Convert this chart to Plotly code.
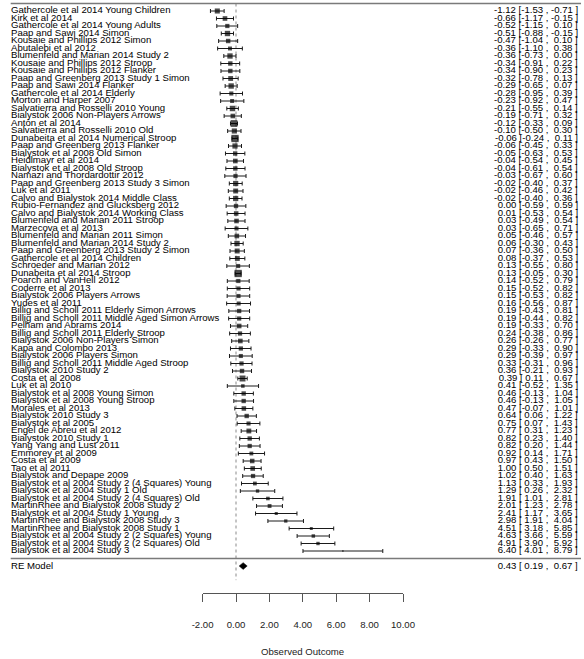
import numpy as np
import plotly.graph_objects as go

# ---------------- data ----------------
studies = [
    "Gathercole et al 2014 Young Children", "Kirk et al 2014", "Gathercole et al 2014 Young Adults",
    "Paap and Sawi 2014 Simon", "Kousaie and Phillips 2012 Simon", "Abutalebi et al 2012",
    "Blumenfeld and Marian 2014 Study 2", "Kousaie and Phillips 2012 Stroop", "Kousaie and Phillips 2012 Flanker",
    "Paap and Greenberg 2013 Study 1 Simon", "Paap and Sawi 2014 Flanker", "Gathercole et al 2014 Elderly",
    "Morton and Harper 2007", "Salvatierra and Rosselli 2010 Young", "Bialystok 2006 Non-Players Arrows",
    "Antón et al 2014", "Salvatierra and Rosselli 2010 Old", "Dunabeita et al 2014 Numerical Stroop",
    "Paap and Greenberg 2013 Flanker", "Bialystok et al 2008 Old Simon", "Heidlmayr et al 2014",
    "Bialystok et al 2008 Old Stroop", "Namazi and Thordardottir 2012", "Paap and Greenberg 2013 Study 3 Simon",
    "Luk et al 2011", "Calvo and Bialystok 2014 Middle Class", "Rubio-Fernandez and Glucksberg 2012",
    "Calvo and Bialystok 2014 Working Class", "Blumenfeld and Marian 2011 Stroop", "Marzecova et al 2013",
    "Blumenfeld and Marian 2011 Simon", "Blumenfeld and Marian 2014 Study 2", "Paap and Greenberg 2013 Study 2 Simon",
    "Gathercole et al 2014 Children", "Schroeder and Marian 2012", "Dunabeita et al 2014 Stroop",
    "Poarch and VanHell 2012", "Coderre et al 2013", "Bialystok 2006 Players Arrows",
    "Yudes et al 2011", "Billig and Scholl 2011 Elderly Simon Arrows", "Billig and Scholl 2011 Middle Aged Simon Arrows",
    "Pelham and Abrams 2014", "Billig and Scholl 2011 Elderly Stroop", "Bialystok 2006 Non-Players Simon",
    "Kapa and Colombo 2013", "Bialystok 2006 Players Simon", "Billig and Scholl 2011 Middle Aged Stroop",
    "Bialystok 2010 Study 2", "Costa et al 2008", "Luk et al 2010",
    "Bialystok et al 2008 Young Simon", "Bialystok et al 2008 Young Stroop", "Morales et al 2013",
    "Bialystok 2010 Study 3", "Bialystok et al 2005", "Engel de Abreu et al 2012",
    "Bialystok 2010 Study 1", "Yang Yang and Lust 2011", "Emmorey et al 2009",
    "Costa et al 2009", "Tao et al 2011", "Bialystok and Depape 2009",
    "Bialystok et al 2004 Study 2 (4 Squares) Young", "Bialystok et al 2004 Study 1 Old",
    "Bialystok et al 2004 Study 2 (4 Squares) Old", "MartinRhee and Bialystok 2008 Study 2",
    "Bialystok et al 2004 Study 1 Young", "MartinRhee and Bialystok 2008 Study 3",
    "MartinRhee and Bialystok 2008 Study 1", "Bialystok et al 2004 Study 2 (2 Squares) Young",
    "Bialystok et al 2004 Study 2 (2 Squares) Old", "Bialystok et al 2004 Study 3",
]
estimates = [
    -1.12, -0.66, -0.52, -0.51, -0.47, -0.36, -0.36, -0.34, -0.34, -0.32, -0.29, -0.28,
    -0.23, -0.21, -0.19, -0.12, -0.10, -0.06, -0.06, -0.05, -0.04, -0.04, -0.03, -0.02,
    -0.02, -0.02, 0.00, 0.01, 0.03, 0.03, 0.05, 0.06, 0.07, 0.08, 0.13, 0.13,
    0.14, 0.15, 0.15, 0.16, 0.19, 0.19, 0.19, 0.24, 0.26, 0.29, 0.29, 0.33,
    0.36, 0.39, 0.41, 0.46, 0.46, 0.47, 0.64, 0.75, 0.77, 0.82, 0.82, 0.92,
    0.97, 1.00, 1.02, 1.13, 1.29, 1.91, 2.01, 2.41, 2.98, 4.51, 4.63, 4.91, 6.40,
]
ci_lower = [
    -1.53, -1.17, -1.15, -0.88, -1.04, -1.10, -0.73, -0.91, -0.90, -0.78, -0.65, -0.95,
    -0.92, -0.55, -0.71, -0.33, -0.50, -0.24, -0.45, -0.63, -0.54, -0.61, -0.67, -0.40,
    -0.46, -0.40, -0.59, -0.53, -0.49, -0.65, -0.46, -0.30, -0.36, -0.37, -0.55, -0.05,
    -0.52, -0.52, -0.53, -0.56, -0.43, -0.44, -0.33, -0.38, -0.26, -0.33, -0.39, -0.31,
    -0.21, 0.11, -0.52, -0.13, -0.13, -0.07, 0.06, 0.07, 0.31, 0.23, 0.20, 0.14,
    0.43, 0.50, 0.40, 0.33, 0.26, 1.01, 1.23, 1.17, 1.91, 3.18, 3.66, 3.90, 4.01,
]
ci_upper = [
    -0.71, -0.15, 0.10, -0.15, 0.10, 0.38, 0.00, 0.22, 0.23, 0.13, 0.07, 0.39,
    0.47, 0.14, 0.32, 0.09, 0.30, 0.11, 0.33, 0.53, 0.45, 0.54, 0.60, 0.37,
    0.42, 0.36, 0.59, 0.54, 0.54, 0.71, 0.57, 0.43, 0.50, 0.53, 0.80, 0.30,
    0.79, 0.82, 0.82, 0.87, 0.81, 0.82, 0.70, 0.86, 0.77, 0.90, 0.97, 0.96,
    0.93, 0.67, 1.35, 1.04, 1.05, 1.01, 1.22, 1.43, 1.23, 1.40, 1.44, 1.71,
    1.50, 1.51, 1.63, 1.93, 2.32, 2.81, 2.78, 3.65, 4.04, 5.85, 5.59, 5.92, 8.79,
]
re_label = "RE Model"
re_estimate = 0.43
re_lower = 0.19
re_upper = 0.67
tick_values = [-2, 0, 2, 4, 6, 8, 10]
tick_labels = ["-2.00", "0.00", "2.00", "4.00", "6.00", "8.00", "10.00"]
axis_title = "Observed Outcome"

# ---------------- layout constants ----------------
W, H = 584, 659
X0_PX, PX_PER_UNIT = 236.0, 16.7      # pixel of x=0, pixels per outcome unit
ROW1_PX, PX_PER_ROW = 551.0, 7.5      # pixel of row 1, pixels per row
FONT = "Liberation Sans, Arial, Helvetica, sans-serif"
FS = 9.6
NB = "\u00a0"

k = len(studies)
rows = np.arange(k, 0, -1)
re_row = -1

est = np.array(estimates)
lb = np.array(ci_lower)
ub = np.array(ci_upper)

# marker size from precision (as in metafor: based on 1/se, rescaled)
sei = (ub - lb) / (2 * 1.96)
inv = 1 / sei
norm = (inv - inv.min()) / (inv.max() - inv.min())
msize = 1.5 + 5.8 * np.sqrt(norm)

x_range = [(0 - X0_PX) / PX_PER_UNIT, (W - X0_PX) / PX_PER_UNIT]
y_range = [1 - (H - ROW1_PX) / PX_PER_ROW, 1 + ROW1_PX / PX_PER_ROW]

def fmt(v):
    s = f"{v:.2f}"
    return NB * (5 - len(s)) + s

def annot(e, l, u):
    return f"{fmt(e)}{NB}[{fmt(l)}{NB},{NB}{fmt(u)}{NB}]"

fig = go.Figure()

fig.add_trace(go.Scatter(
    x=est, y=rows, mode="markers",
    marker=dict(symbol="square", size=msize, color="black", line=dict(width=0)),
    error_x=dict(type="data", symmetric=False, array=ub - est, arrayminus=est - lb,
                 color="#1a1a1a", thickness=1, width=2),
    showlegend=False, hoverinfo="skip", cliponaxis=False,
))

dh = 0.45
fig.add_trace(go.Scatter(
    x=[re_lower, re_estimate, re_upper, re_estimate, re_lower],
    y=[re_row, re_row + dh, re_row, re_row - dh, re_row],
    mode="lines", fill="toself", fillcolor="black",
    line=dict(color="black", width=0.5),
    showlegend=False, hoverinfo="skip",
))

fig.add_trace(go.Scatter(x=[None], y=[None], xaxis="x2", yaxis="y2",
                         showlegend=False, hoverinfo="skip"))

annotations = []
for name, r, e, l, u in zip(studies, rows, est, lb, ub):
    annotations.append(dict(x=11 / W, xref="paper", y=r, yref="y", text=name,
                            xanchor="left", yanchor="middle", showarrow=False,
                            borderpad=0, borderwidth=0, yshift=1.5,
                            font=dict(family=FONT, size=FS, color="black")))
    annotations.append(dict(x=578 / W, xref="paper", y=r, yref="y", text=annot(e, l, u),
                            xanchor="right", yanchor="middle", showarrow=False,
                            borderpad=0, borderwidth=0, yshift=1.5,
                            font=dict(family=FONT, size=FS, color="black")))
annotations.append(dict(x=11 / W, xref="paper", y=re_row, yref="y", text=re_label,
                        xanchor="left", yanchor="middle", showarrow=False,
                        borderpad=0, borderwidth=0, yshift=1,
                        font=dict(family=FONT, size=FS, color="black")))
annotations.append(dict(x=578 / W, xref="paper", y=re_row, yref="y",
                        text=annot(re_estimate, re_lower, re_upper),
                        xanchor="right", yanchor="middle", showarrow=False,
                        borderpad=0, borderwidth=0, yshift=1,
                        font=dict(family=FONT, size=FS, color="black")))
annotations.append(dict(x=(tick_values[0] + tick_values[-1]) / 2, xref="x",
                        y=1 - 651 / H, yref="paper", text=axis_title,
                        xanchor="center", yanchor="middle", showarrow=False,
                        font=dict(family=FONT, size=FS, color="#222222")))

shapes = [
    dict(type="line", xref="paper", yref="y", x0=10.7 / W, x1=581 / W, y0=k + 1, y1=k + 1,
         line=dict(color="#7a7a7a", width=1.5)),
    dict(type="line", xref="paper", yref="y", x0=10.7 / W, x1=581 / W, y0=0, y1=0,
         line=dict(color="#7a7a7a", width=1.5)),
    dict(type="line", xref="x", yref="y", x0=0, x1=0, y0=k + 1, y1=-3.9,
         line=dict(color="#8a8a8a", width=1, dash="dot"), layer="below"),
]

ax_px0 = X0_PX + PX_PER_UNIT * tick_values[0]
ax_px1 = X0_PX + PX_PER_UNIT * tick_values[-1]
axis_line_px = 593.3

fig.update_layout(
    width=W, height=H, autosize=False,
    margin=dict(l=0, r=0, t=0, b=0, pad=0, autoexpand=False),
    paper_bgcolor="white", plot_bgcolor="white",
    xaxis=dict(range=x_range, visible=False, domain=[0, 1], fixedrange=True, automargin=False),
    yaxis=dict(range=y_range, visible=False, domain=[0, 1], fixedrange=True, automargin=False),
    xaxis2=dict(domain=[ax_px0 / W, ax_px1 / W], range=[tick_values[0], tick_values[-1]],
                anchor="y2", showline=True, linecolor="#555555", linewidth=1,
                ticks="outside", ticklen=8, tickcolor="#555555", tickwidth=1,
                tickvals=tick_values, ticktext=tick_labels,
                tickfont=dict(family=FONT, size=FS, color="#222222"),
                ticklabelstandoff=14, automargin=False,
                showgrid=False, zeroline=False, fixedrange=True),
    yaxis2=dict(domain=[1 - axis_line_px / H, 1 - axis_line_px / H + 0.02], anchor="x2",
                visible=False, range=[0, 1], fixedrange=True, automargin=False),
    annotations=annotations,
    shapes=shapes,
    showlegend=False,
)

fig.write_html(
    "out.html",
    config={"displayModeBar": False, "responsive": False},
    post_script="document.body.style.margin='0';document.body.style.overflow='hidden';",
)
